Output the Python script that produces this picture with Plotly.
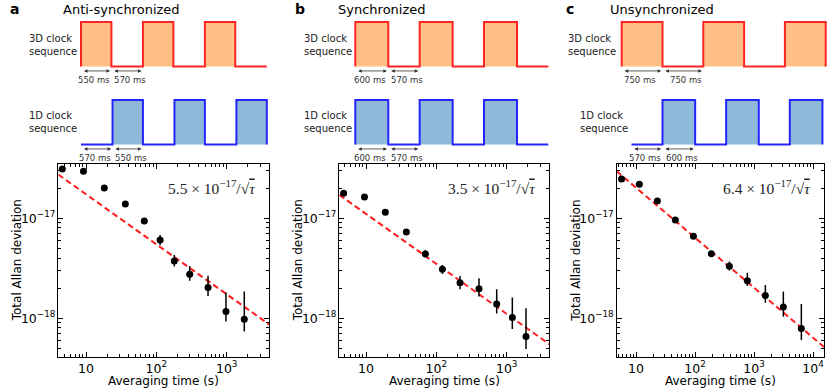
import numpy as np
import plotly.graph_objects as go

W, H = 830, 389

panel_letters = ["a", "b", "c"]
panel_titles = ["Anti-synchronized", "Synchronized", "Unsynchronized"]

# clock sequences: segment durations (ms), first level (1 = on), start time (ms)
seq3d_durations = [[550, 570, 550, 570, 550, 570],
                   [600, 570, 600, 570, 600, 570],
                   [750, 750, 750, 750, 750]]
seq3d_first = [1, 1, 1]
seq3d_start = [0, 0, 0]
seq1d_durations = [[570, 550, 570, 550, 570, 550],
                   [600, 570, 600, 570, 600, 570],
                   [570, 600, 570, 600, 570, 600]]
seq1d_first = [0, 1, 0]
seq1d_start = [0, 0, 180]

# total Allan deviation vs averaging time
tau_a = [4.6, 9.2, 18.2, 36.2, 67.4, 113, 180, 298, 543, 977, 1780]
adev_a = [3.11e-17, 2.95e-17, 2.01e-17, 1.39e-17, 9.4e-18, 6.07e-18,
          3.74e-18, 2.75e-18, 2.03e-18, 1.17e-18, 9.8e-19]
upper_a = [3.2e-17, 3.05e-17, 2.1e-17, 1.46e-17, 1.0e-17, 6.8e-18,
           4.3e-18, 3.34e-18, 2.67e-18, 1.81e-18, 1.85e-18]
lower_a = [3.0e-17, 2.85e-17, 1.92e-17, 1.32e-17, 8.8e-18, 5.4e-18,
           3.29e-18, 2.38e-18, 1.67e-18, 9.3e-19, 7.4e-19]

tau_b = [4.8, 9.5, 18.8, 37.4, 69.8, 122, 217, 404, 721, 1203, 1883]
adev_b = [1.78e-17, 1.63e-17, 1.15e-17, 7.3e-18, 4.4e-18, 3.09e-18,
          2.27e-18, 1.98e-18, 1.39e-18, 1.02e-18, 6.56e-19]
upper_b = [1.84e-17, 1.69e-17, 1.2e-17, 7.6e-18, 4.82e-18, 3.41e-18,
           2.65e-18, 2.51e-18, 1.95e-18, 1.61e-18, 1.26e-18]
lower_b = [1.72e-17, 1.57e-17, 1.1e-17, 7.0e-18, 4.07e-18, 2.77e-18,
           1.95e-18, 1.65e-18, 1.12e-18, 7.8e-19, 4.94e-19]

tau_c = [5.7, 11.4, 23, 46.4, 94, 189, 382, 771, 1556, 3140, 6340]
adev_c = [2.47e-17, 2.19e-17, 1.49e-17, 9.6e-18, 6.6e-18, 4.43e-18,
          3.31e-18, 2.38e-18, 1.69e-18, 1.30e-18, 7.9e-19]
upper_c = [2.55e-17, 2.26e-17, 1.54e-17, 1.0e-17, 6.85e-18, 4.65e-18,
           3.69e-18, 2.86e-18, 2.15e-18, 1.85e-18, 1.39e-18]
lower_c = [2.4e-17, 2.12e-17, 1.44e-17, 9.2e-18, 6.35e-18, 4.2e-18,
           3.0e-18, 2.1e-18, 1.43e-18, 1.04e-18, 6.07e-19]

fit_coeff = [5.5e-17, 3.5e-17, 6.4e-17]
fit_label = ["5.5", "3.5", "6.4"]

taus = [tau_a, tau_b, tau_c]
adevs = [adev_a, adev_b, adev_c]
uppers = [upper_a, upper_b, upper_c]
lowers = [lower_a, lower_b, lower_c]

# ---- layout (pixels) ----
plot_x = [(58.3, 269.3), (339.3, 549.3), (616.7, 824)]
plot_y = (164, 357)
xlog_range = [[0.606, 3.606], [0.62, 3.606], [0.673, 4.186]]
ylog_range = [-18.387, -16.457]

wave_x0 = [81, 355.3, 621.7]
wave_scale = [0.0553, 0.055, 0.0544]      # px per ms
wave3d_px = (22, 66.5)
wave1d_px = (100, 144.5)
wave_yrange = [-0.45, 1.2]

RED_LINE, RED_FILL = "#ff2424", "#ffbf86"
BLUE_LINE, BLUE_FILL = "#2424ff", "#8fb9d9"
FONT = "DejaVu Sans"


def px(xp):
    return xp / W


def py(yp):
    return 1 - yp / H


def step_path(durs, first, t0):
    xs, ys = [t0], [0]
    lvl = first
    if lvl:
        xs.append(t0)
        ys.append(1)
    t = t0
    for i, d in enumerate(durs):
        t += d
        xs.append(t)
        ys.append(lvl)
        if i < len(durs) - 1 or lvl == 1:
            lvl = 1 - lvl
            xs.append(t)
            ys.append(lvl)
    return xs, ys


fig = go.Figure()
annotations = []
layout = {}

# ---- Allan deviation panels ----
for i in range(3):
    n = i + 1
    xa, ya = ("x" if n == 1 else f"x{n}"), ("y" if n == 1 else f"y{n}")
    tau = np.array(taus[i])
    adev = np.array(adevs[i])
    up = np.array(uppers[i]) - adev
    lo = adev - np.array(lowers[i])

    t_fit = np.array([10 ** xlog_range[i][0], 10 ** xlog_range[i][1]])
    fig.add_trace(go.Scatter(x=t_fit, y=fit_coeff[i] / np.sqrt(t_fit), mode="lines",
                             line=dict(color="#ff1f1f", width=2, dash="6px,3.5px"),
                             xaxis=xa, yaxis=ya, showlegend=False, hoverinfo="skip"))
    fig.add_trace(go.Scatter(x=tau, y=adev, mode="markers",
                             marker=dict(color="black", size=7),
                             error_y=dict(type="data", symmetric=False, array=up, arrayminus=lo,
                                          color="black", thickness=1.5, width=0),
                             xaxis=xa, yaxis=ya, showlegend=False))

    common = dict(type="log", showline=True, linecolor="black", linewidth=1, mirror="ticks",
                  ticks="inside", ticklen=5, tickwidth=1, tickcolor="black",
                  showgrid=False, zeroline=False, dtick=1, exponentformat="power",
                  tickfont=dict(family=FONT, size=10, color="black"),
                  minor=dict(ticks="inside", ticklen=3, tickcolor="black", dtick="D1", showgrid=False))
    layout["xaxis" if n == 1 else f"xaxis{n}"] = dict(
        common, domain=[px(plot_x[i][0]), px(plot_x[i][1])], range=xlog_range[i], anchor=ya)
    layout["yaxis" if n == 1 else f"yaxis{n}"] = dict(
        common, domain=[py(plot_y[1]), py(plot_y[0])], range=ylog_range, anchor=xa)

    sup = "<sup>\u221217</sup>"
    annotations.append(dict(
        xref=f"{xa} domain", yref="paper", x=1, xshift=-11, y=py(187), xanchor="right", yanchor="middle",
        text=f"{fit_label[i]} \u00d7 10{sup}/\u221a<span style='text-decoration:overline'><i>\u03c4</i></span>",
        showarrow=False, font=dict(family="Liberation Serif", size=15.5, color="#222")))

    cx = (plot_x[i][0] + plot_x[i][1]) / 2
    annotations.append(dict(xref="paper", yref="paper", x=px(cx), y=py(381), text="Averaging time (s)",
                            showarrow=False, xanchor="center", yanchor="middle",
                            font=dict(family=FONT, size=12, color="black")))
    annotations.append(dict(xref="paper", yref="paper", x=px(plot_x[i][0] - 41.5), y=py(260.5),
                            text="Total Allan deviation", textangle=-90, showarrow=False,
                            xanchor="center", yanchor="middle",
                            font=dict(family=FONT, size=12, color="black")))

# ---- clock sequence schematics ----
label3d_x = [27, 301.7, 566]
label1d_x = [27, 301.7, 578.3]
letter_x = [8, 293, 564]
title_x = [60.7, 336, 607.7]
label_shift = [-2, 3]

ax_n = 4
for i in range(3):
    x0, s = wave_x0[i], wave_scale[i]
    specs = [(seq3d_durations[i], seq3d_first[i], seq3d_start[i], wave3d_px, RED_LINE, RED_FILL),
             (seq1d_durations[i], seq1d_first[i], seq1d_start[i], wave1d_px, BLUE_LINE, BLUE_FILL)]
    for durs, first, t0, (top, bot), lc, fc in specs:
        xa, ya = f"x{ax_n}", f"y{ax_n}"
        xs, ys = step_path(durs, first, t0)
        fig.add_trace(go.Scatter(x=xs, y=ys, mode="lines", fill="tozeroy", fillcolor=fc,
                                 line=dict(color=lc, width=2), xaxis=xa, yaxis=ya,
                                 showlegend=False, hoverinfo="skip"))
        left = x0 - 8
        right = min(x0 + (t0 + sum(durs)) * s + 8, W)
        hgt = bot - top
        layout[f"xaxis{ax_n}"] = dict(domain=[px(left), px(right)],
                                      range=[(left - x0) / s, (right - x0) / s],
                                      visible=False, anchor=ya)
        layout[f"yaxis{ax_n}"] = dict(domain=[py(bot - wave_yrange[0] * hgt),
                                              py(top - (wave_yrange[1] - 1) * hgt)],
                                      range=wave_yrange, visible=False, anchor=xa)
        # double arrows + durations for the first two segments
        t = t0
        for k, d in enumerate(durs[:2]):
            annotations.append(dict(xref=xa, yref=ya, axref=xa, ayref=ya,
                                    x=t + d - 25, y=-0.1, ax=t + 25, ay=-0.1, text="",
                                    showarrow=True, arrowside="end+start", arrowhead=2,
                                    arrowsize=0.9, arrowwidth=0.8, arrowcolor="#333",
                                    standoff=0, startstandoff=0))
            annotations.append(dict(xref=xa, yref=ya, x=t + d / 2, y=-0.31, xshift=label_shift[k],
                                    text=f"{d} ms", showarrow=False,
                                    xanchor="center", yanchor="middle",
                                    font=dict(family=FONT, size=8.5, color="#333")))
            t += d
        ax_n += 1

    for lx, ly, lab in [(label3d_x[i], 44.8, "3D clock<br>sequence"),
                        (label1d_x[i], 122, "1D clock<br>sequence")]:
        annotations.append(dict(xref="paper", yref="paper", x=px(lx), y=py(ly), text=lab,
                                showarrow=False, xanchor="left", yanchor="middle", align="left",
                                font=dict(family=FONT, size=10, color="#222")))
    annotations.append(dict(xref="paper", yref="paper", x=px(letter_x[i]), y=py(9.5),
                            text=f"<b>{panel_letters[i]}</b>", showarrow=False,
                            xanchor="left", yanchor="middle",
                            font=dict(family=FONT, size=14, color="black")))
    annotations.append(dict(xref="paper", yref="paper", x=px(title_x[i]), y=py(9.5),
                            text=panel_titles[i], showarrow=False,
                            xanchor="left", yanchor="middle",
                            font=dict(family=FONT, size=13, color="black")))

fig.update_layout(width=W, height=H, autosize=False,
                  margin=dict(l=0, r=0, t=0, b=0),
                  paper_bgcolor="white", plot_bgcolor="rgba(0,0,0,0)",
                  annotations=annotations, **layout)

# page body has a default 8px margin; drop it so the figure fills the window
fig.write_html("out.html", config={"displayModeBar": False},
               post_script="document.body.style.margin='0';")
